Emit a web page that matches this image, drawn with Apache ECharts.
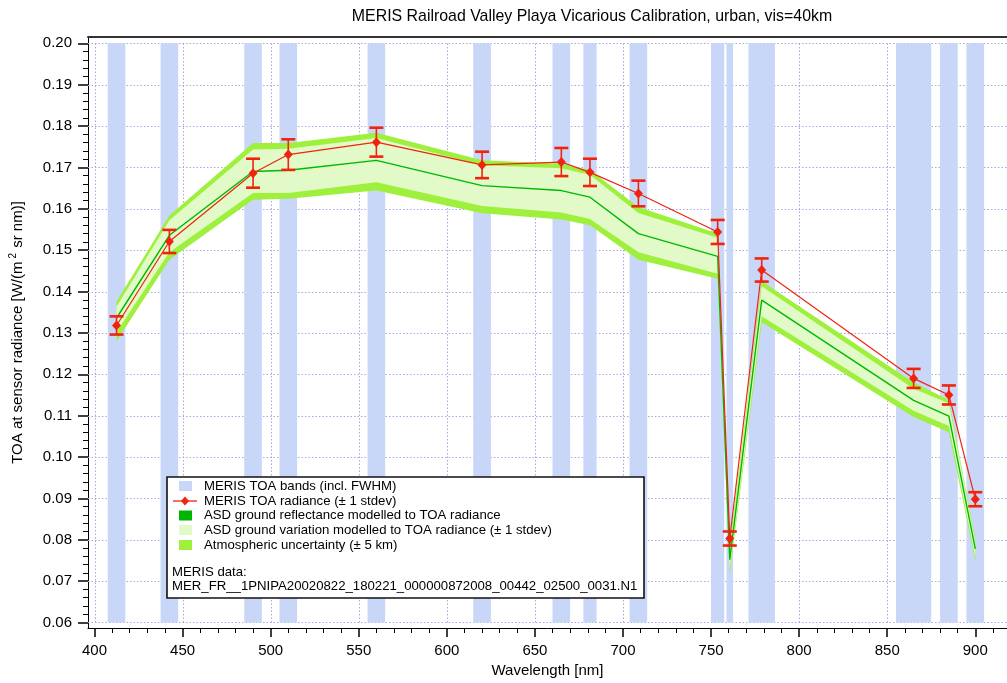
<!DOCTYPE html>
<html><head><meta charset="utf-8">
<script src="https://cdn.jsdelivr.net/npm/echarts@6/dist/echarts.min.js"></script>
<style>html,body{margin:0;padding:0;background:#fff}#c{width:1007px;height:683px}</style>
</head><body><div id="c"></div>
<script>
// ---- data ----
const bandCenters = [412.5, 442.5, 490, 510, 560, 620, 665, 681.25, 708.75, 753.75, 760.625, 778.75, 865, 885, 900];
const bandWidths  = [10, 10, 10, 10, 10, 10, 10, 7.5, 10, 7.5, 3.75, 15, 20, 10, 10];
const merisRad = [0.1318, 0.1521, 0.1686, 0.1731, 0.1761, 0.1706, 0.1713, 0.1688, 0.1637, 0.1544, 0.0803, 0.1452, 0.1190, 0.1150, 0.0898];
const merisStd = [0.0022, 0.0028, 0.0035, 0.0037, 0.0035, 0.0032, 0.0034, 0.0033, 0.0031, 0.0029, 0.0017, 0.0028, 0.0023, 0.0023, 0.0017];
const asdModel = [0.1336, 0.1536, 0.1690, 0.1693, 0.1717, 0.1656, 0.1644, 0.1628, 0.1540, 0.1485, 0.0752, 0.1379, 0.1137, 0.1099, 0.0778];
const asdStdHigh = [0.1363, 0.1572, 0.1743, 0.1745, 0.1771, 0.1705, 0.1698, 0.1682, 0.1590, 0.1530, 0.0775, 0.1413, 0.1165, 0.1130, 0.0795];
const asdStdLow  = [0.1302, 0.1495, 0.1638, 0.1638, 0.1664, 0.1607, 0.1591, 0.1575, 0.1495, 0.1443, 0.0730, 0.1340, 0.1112, 0.1075, 0.0758];
const atmHigh = [0.1376, 0.1584, 0.1759, 0.1759, 0.1784, 0.1717, 0.1709, 0.1694, 0.1604, 0.1540, 0.0785, 0.1425, 0.1180, 0.1138, 0.0802];
const atmLow  = [0.1280, 0.1477, 0.1622, 0.1624, 0.1644, 0.1589, 0.1574, 0.1560, 0.1477, 0.1431, 0.0718, 0.1326, 0.1097, 0.1060, 0.0749];
const xTicks = [400, 450, 500, 550, 600, 650, 700, 750, 800, 850, 900];
const yTicks = [0.06, 0.07, 0.08, 0.09, 0.10, 0.11, 0.12, 0.13, 0.14, 0.15, 0.16, 0.17, 0.18, 0.19, 0.20];
const xMinorTicks = [410,420,430,440,460,470,480,490,510,520,530,540,560,570,580,590,610,620,630,640,660,670,680,690,710,720,730,740,760,770,780,790,810,820,830,840,860,870,880,890,910];
const yMinorTicks = [];
for (let i = 0; i < yTicks.length - 1; i++) for (let k = 1; k < 5; k++) yMinorTicks.push(+(yTicks[i] + k * 0.002).toFixed(3));

const X_MIN = 396.3, X_MAX = 918.0, Y_MIN = 0.05867, Y_MAX = 0.20152;
const FONT = "'Liberation Sans', Arial, Helvetica, sans-serif";
const C_BAND = '#c8d6f7', C_ATM = '#9ef03c', C_STD = '#e1fac8', C_MODEL = '#00b800', C_RED = '#f0230f';

const pairs = arr => bandCenters.map((c, i) => [c, arr[i]]);
const crisp = v => Math.round(v) + 0.5;

// band polygon drawn once from all rows (x, low, high) through the axes
function bandPolygon(fill) {
  return (params, api) => {
    if (params.dataIndexInside !== 0) return null;
    const n = params.dataInsideLength, up = [], lo = [];
    for (let i = 0; i < n; i++) {
      up.push(api.coord([api.value(0, i), api.value(2, i)]));
      lo.push(api.coord([api.value(0, i), api.value(1, i)]));
    }
    return {type:'polygon', shape:{points: up.concat(lo.reverse())}, style:{fill: fill}};
  };
}

const chart = echarts.init(document.getElementById('c'), null, {renderer: 'canvas'});
const hiddenAxis = {axisLine:{show:false}, axisTick:{show:false}, axisLabel:{show:false}, splitLine:{show:false}};
const legendText = (x, y, t) => ({type:'text', z:101, x:x, y:y, style:{text:t, fontSize:13.2, fontFamily:FONT, fill:'#000', verticalAlign:'middle'}});
const option = {
  animation: false,
  grid: {left: 88, top: 37, right: 0, bottom: 54, containLabel: false},
  xAxis: [
    {type:'value', min:X_MIN, max:X_MAX, position:'bottom',
     axisLine:{show:true, onZero:false, lineStyle:{color:'#000', width:1}},
     axisTick:{show:true, length:9, customValues:xTicks, lineStyle:{color:'#000', width:1.5}},
     axisLabel:{customValues:xTicks, margin:15, fontSize:15, color:'#000', fontFamily:FONT},
     splitLine:{show:false},
     name:'Wavelength [nm]', nameLocation:'middle', nameGap:35,
     nameTextStyle:{fontSize:15, color:'#000', fontFamily:FONT}},
    Object.assign({type:'value', min:X_MIN, max:X_MAX, position:'bottom'}, hiddenAxis,
      {axisTick:{show:true, length:5, customValues:xMinorTicks, lineStyle:{color:'#000', width:1}}}),
    Object.assign({type:'value', min:X_MIN, max:X_MAX, position:'top'}, hiddenAxis,
      {axisLine:{show:true, onZero:false, lineStyle:{color:'#333', width:2}}})
  ],
  yAxis: [
    {type:'value', min:Y_MIN, max:Y_MAX, position:'left',
     axisLine:{show:true, onZero:false, lineStyle:{color:'#000', width:1}},
     axisTick:{show:true, length:10, customValues:yTicks, lineStyle:{color:'#000', width:1.5}},
     axisLabel:{customValues:yTicks, margin:16, fontSize:15, color:'#000', fontFamily:FONT, formatter: v => v.toFixed(2)},
     splitLine:{show:false},
     name:'{n|TOA at sensor radiance [W/(m}{s|2}{n| sr nm)]}', nameLocation:'middle', nameGap:61,
     nameTextStyle:{fontSize:15, color:'#000', fontFamily:FONT,
       rich:{n:{fontSize:15, fontFamily:FONT, color:'#000'}, s:{fontSize:10, fontFamily:FONT, color:'#000', padding:[0,1,9,3]}}}},
    Object.assign({type:'value', min:Y_MIN, max:Y_MAX, position:'left'}, hiddenAxis,
      {axisTick:{show:true, length:5, customValues:yMinorTicks, lineStyle:{color:'#000', width:1}}})
  ],
  series: [
    {type:'custom', name:'vgrid', silent:true, z:1, data: xTicks.map(v => [v, yTicks[0]]),
     renderItem: (p, api) => {
       const a = api.coord([api.value(0), yTicks[0]]), b = api.coord([api.value(0), yTicks[yTicks.length-1]]);
       return {type:'line', shape:{x1:crisp(a[0]), y1:a[1], x2:crisp(b[0]), y2:b[1]}, style:{stroke:'#a8a8e2', lineWidth:1, lineDash:[1.5,2]}};
     }},
    {type:'custom', name:'hgrid', silent:true, z:1, data: yTicks.map(v => [X_MIN, v]),
     renderItem: (p, api) => {
       const a = api.coord([X_MIN, api.value(1)]), b = api.coord([X_MAX, api.value(1)]);
       return {type:'line', shape:{x1:a[0], y1:crisp(a[1]), x2:b[0], y2:crisp(b[1])}, style:{stroke:'#a8a8e2', lineWidth:1, lineDash:[1.5,2]}};
     }},
    {type:'custom', name:'MERIS TOA bands (incl. FWHM)', silent:true, z:2,
     data: bandCenters.map((c, i) => [c, bandWidths[i]]),
     renderItem: (p, api) => {
       const c = api.value(0), w = api.value(1);
       const a = api.coord([c - w/2, yTicks[yTicks.length-1]]), b = api.coord([c + w/2, yTicks[0]]);
       return {type:'rect', shape:{x:a[0], y:a[1], width:b[0]-a[0], height:b[1]-a[1]}, style:{fill:C_BAND}};
     }},
    {type:'custom', name:'Atmospheric uncertainty (± 5 km)', silent:true, z:3,
     data: bandCenters.map((c, i) => [c, atmLow[i], atmHigh[i]]), renderItem: bandPolygon(C_ATM)},
    {type:'custom', name:'ASD ground variation modelled to TOA radiance (± 1 stdev)', silent:true, z:3,
     data: bandCenters.map((c, i) => [c, asdStdLow[i], asdStdHigh[i]]), renderItem: bandPolygon(C_STD)},
    {type:'line', name:'ASD ground reflectance modelled to TOA radiance', z:4, silent:true, symbol:'none',
     data: pairs(asdModel), lineStyle:{color:C_MODEL, width:1.4}},
    {type:'custom', name:'errorbars', z:5, silent:true,
     data: bandCenters.map((c, i) => [c, merisRad[i] - merisStd[i], merisRad[i] + merisStd[i]]),
     renderItem: (p, api) => {
       const lo = api.coord([api.value(0), api.value(1)]), hi = api.coord([api.value(0), api.value(2)]);
       const hw = 7;
       return {type:'group', children:[
         {type:'line', shape:{x1:lo[0], y1:lo[1], x2:hi[0], y2:hi[1]}, style:{stroke:C_RED, lineWidth:1.6}},
         {type:'line', shape:{x1:lo[0]-hw, y1:lo[1], x2:lo[0]+hw, y2:lo[1]}, style:{stroke:C_RED, lineWidth:2.6}},
         {type:'line', shape:{x1:hi[0]-hw, y1:hi[1], x2:hi[0]+hw, y2:hi[1]}, style:{stroke:C_RED, lineWidth:2.6}}
       ]};
     }},
    {type:'line', name:'MERIS TOA radiance (± 1 stdev)', z:6, silent:true, data: pairs(merisRad),
     symbol:'diamond', symbolSize:[9,10], showAllSymbol:true,
     lineStyle:{color:C_RED, width:1.2}, itemStyle:{color:C_RED}}
  ],
  graphic: [
    {type:'text', x:592, y:17, z:100, style:{text:'MERIS Railroad Valley Playa Vicarious Calibration, urban, vis=40km', fontSize:15.9, fontFamily:FONT, fill:'#000', align:'center', verticalAlign:'middle'}},
    {type:'rect', z:100, shape:{x:167, y:477, width:477, height:121}, style:{fill:'#fff', stroke:'#111', lineWidth:1.6}},
    {type:'rect', z:101, shape:{x:179, y:481, width:13, height:10}, style:{fill:C_BAND}},
    {type:'line', z:101, shape:{x1:173, y1:501, x2:197, y2:501}, style:{stroke:C_RED, lineWidth:1.3}},
    {type:'polygon', z:102, shape:{points:[[185,496.5],[189,501],[185,505.5],[181,501]]}, style:{fill:C_RED}},
    {type:'rect', z:101, shape:{x:179, y:510.5, width:13, height:10}, style:{fill:'#00b400'}},
    {type:'rect', z:101, shape:{x:179, y:525, width:13, height:10}, style:{fill:C_STD}},
    {type:'rect', z:101, shape:{x:179, y:540, width:13, height:10}, style:{fill:C_ATM}},
    legendText(204, 486, 'MERIS TOA bands (incl. FWHM)'),
    legendText(204, 501, 'MERIS TOA radiance (± 1 stdev)'),
    legendText(204, 515.5, 'ASD ground reflectance modelled to TOA radiance'),
    legendText(204, 530, 'ASD ground variation modelled to TOA radiance (± 1 stdev)'),
    legendText(204, 545, 'Atmospheric uncertainty (± 5 km)'),
    legendText(172, 572, 'MERIS data:'),
    legendText(172, 586, 'MER_FR__1PNIPA20020822_180221_000000872008_00442_02500_0031.N1')
  ]
};
chart.setOption(option);
</script>
</body></html>
